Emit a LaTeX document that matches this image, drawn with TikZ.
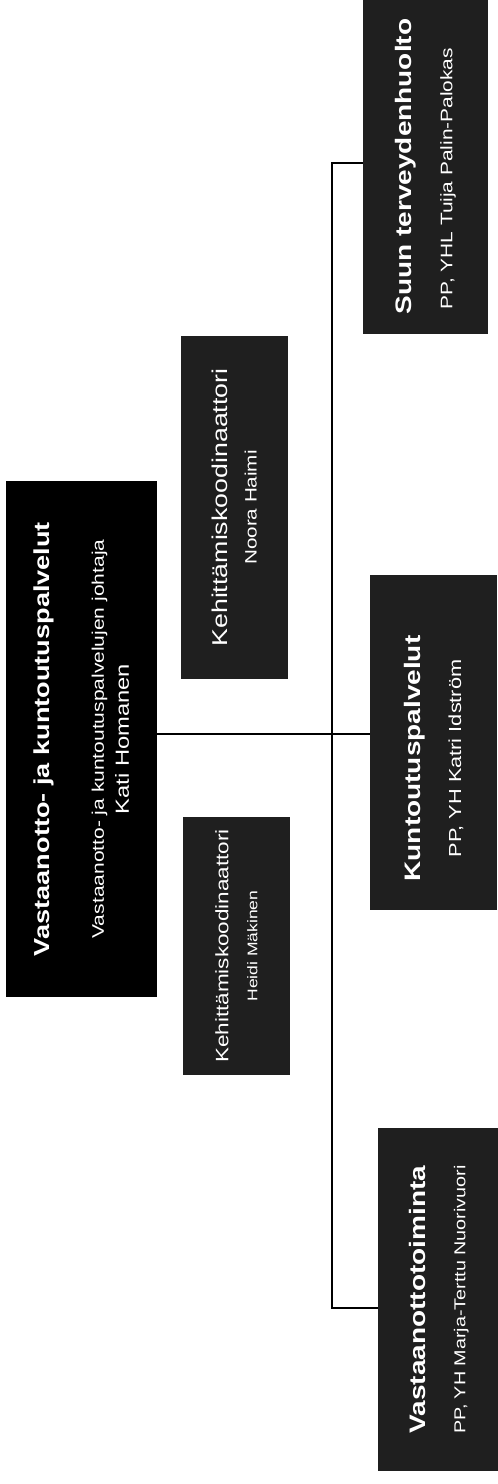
\documentclass[tikz,border=0pt]{standalone}
\usepackage{graphicx}
\usepackage{fontspec}
\setmainfont{Liberation Sans}
\newcommand{\txt}[2]{\scalebox{1.25}[1]{\fontsize{#1}{#1}\selectfont #2}}
\newcommand{\pad}[1]{\hbox to #1{}}
\tikzset{
  unit/.style={rotate=90,fill=black!88,text=white,align=center,inner sep=0pt},
  link/.style={line width=1.2pt}
}
\begin{document}
\begin{tikzpicture}[x=1pt,y=-1pt]
\useasboundingbox (0,0) rectangle (498,1484);
\node[unit,fill=black,minimum width=516pt,minimum height=151pt,font=\fontsize{10}{25}\selectfont] (head) at (81.5,739)
  {\txt{21.7}{\bfseries Vastaanotto- ja kuntoutuspalvelut}\\[29pt]\txt{16.8}{Vastaanotto- ja kuntoutuspalvelujen johtaja}\\\txt{19}{Kati Homanen}};
\node[unit,minimum width=343pt,minimum height=107pt,font=\fontsize{10}{29}\selectfont] (devb) at (234.5,507.5)
  {\txt{21.4}{Kehittämiskoodinaattori}\\\txt{16.5}{Noora Haimi}};
\node[unit,minimum width=258pt,minimum height=107pt,font=\fontsize{10}{29}\selectfont] (deva) at (236.5,946)
  {\txt{18}{Kehittämiskoodinaattori}\\\txt{14}{Heidi Mäkinen}};
\node[unit,minimum width=335pt,minimum height=125pt,font=\fontsize{10}{41}\selectfont] (suun) at (425.5,166.5)
  {\txt{22.4}{\bfseries Suun terveydenhuolto}\\\txt{16.7}{PP, YHL Tuija Palin-Palokas}\pad{24pt}};
\node[unit,minimum width=335pt,minimum height=127pt,font=\fontsize{10}{41}\selectfont] (kunt) at (433.5,742.5)
  {\txt{22.4}{\bfseries Kuntoutuspalvelut}\pad{32pt}\\\txt{17.4}{PP, YH Katri Idström}\pad{32pt}};
\node[unit,minimum width=343pt,minimum height=122pt,font=\fontsize{10}{40}\selectfont] (vast) at (439,1299.5)
  {\txt{22.4}{\bfseries Vastaanottotoiminta}\\\txt{15.8}{PP, YH Marja-Terttu Nuorivuori}};
\coordinate (top) at (332,163);
\coordinate (hub) at (332,734);
\coordinate (bot) at (332,1308);
\draw[link] (head.south |- hub) -- (kunt.north |- hub);
\draw[link] (suun.north |- top) -- (top) -- (bot) -- (vast.north |- bot);
\end{tikzpicture}
\end{document}
